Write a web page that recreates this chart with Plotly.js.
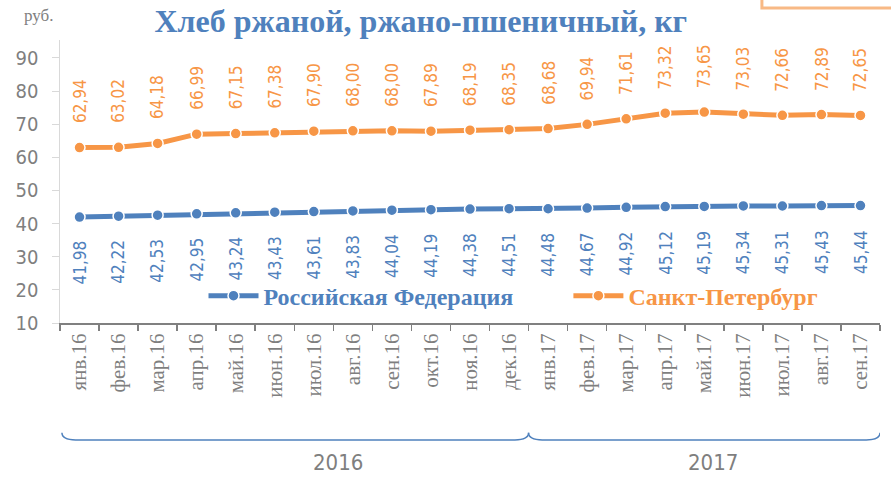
<!DOCTYPE html>
<html><head><meta charset="utf-8">
<script src="https://cdn.plot.ly/plotly-3.0.1.min.js"></script>
<style>html,body{margin:0;padding:0;background:#fff}#c{width:891px;height:496px}</style>
</head><body><div id="c"></div>
<script>
const months = ['янв.16','фев.16','мар.16','апр.16','май.16','июн.16','июл.16','авг.16','сен.16','окт.16','ноя.16','дек.16',
  'янв.17','фев.17','мар.17','апр.17','май.17','июн.17','июл.17','авг.17','сен.17'];
const rf = [41.98,42.22,42.53,42.95,43.24,43.43,43.61,43.83,44.04,44.19,44.38,44.51,44.48,44.67,44.92,45.12,45.19,45.34,45.31,45.43,45.44];
const spb = [62.94,63.02,64.18,66.99,67.15,67.38,67.90,68.00,68.00,67.89,68.19,68.35,68.68,69.94,71.61,73.32,73.65,73.03,72.66,72.89,72.65];
const years = ['2016','2017'];
const yTicks = [10,20,30,40,50,60,70,80,90];

const BLUE = '#4F81BD', ORANGE = '#F79646';
const NUMFONT = 'DejaVu Sans Condensed, DejaVu Sans, sans-serif';
const SERIF = 'Liberation Serif, Times New Roman, serif';
const fmt = v => v.toFixed(2).replace('.', ',');

const traces = [
  {x: months, y: rf, type:'scatter', mode:'lines+markers', name:'<span style="color:'+BLUE+'">Российская Федерация</span>',
   legend:'legend',
   line:{color:BLUE, width:5}, marker:{color:BLUE, size:11, line:{color:'#fff', width:1.5}}},
  {x: months, y: spb, type:'scatter', mode:'lines+markers', name:'<span style="color:'+ORANGE+'">Санкт-Петербург</span>',
   legend:'legend2',
   line:{color:ORANGE, width:5}, marker:{color:ORANGE, size:11, line:{color:'#fff', width:1.5}}}
];

const ann = [];
months.forEach((m, i) => {
  ann.push({x: m, y: spb[i], xref:'x', yref:'y', text: fmt(spb[i]), showarrow:false, textangle:-90,
    yanchor:'bottom', xanchor:'center', yshift:22, font:{family:NUMFONT, size:17, color:ORANGE, stretch:'condensed'}});
  ann.push({x: m, y: rf[i], xref:'x', yref:'y', text: fmt(rf[i]), showarrow:false, textangle:-90,
    yanchor:'top', xanchor:'center', yshift:-22, font:{family:NUMFONT, size:17, color:BLUE, stretch:'condensed'}});
});
ann.push({x:0.339, y:-0.545, xref:'paper', yref:'paper', text: years[0], showarrow:false,
  font:{family:NUMFONT, size:22, color:'#7f7f7f', stretch:'condensed'}});
ann.push({x:0.829, y:-0.545, xref:'paper', yref:'paper', text: years[1], showarrow:false,
  font:{family:NUMFONT, size:22, color:'#7f7f7f', stretch:'condensed'}});
ann.push({x:-0.0463, y:1.088, xref:'paper', yref:'paper', xanchor:'left', yanchor:'middle', text:'руб.', showarrow:false,
  font:{family:SERIF, size:17, color:'#7f7f7f'}});

const yb = -0.413, yt = -0.388;
function brace(a, b) {
  const d = 0.35;
  return `M ${a},${yt} Q ${a},${yb} ${a+d},${yb} L ${b-d},${yb} Q ${b},${yb} ${b},${yt}`;
}
const shapes = [
  {type:'path', xref:'x', yref:'paper', path: brace(-0.45, 11.5), line:{color:BLUE, width:1.5}},
  {type:'path', xref:'x', yref:'paper', path: brace(11.5, 20.5), line:{color:BLUE, width:1.5}},
  {type:'rect', xref:'paper', yref:'paper', x0:0.856, x1:1.05, y0:1.113, y1:1.3, line:{color:'#F8B985', width:3}, fillcolor:'rgba(0,0,0,0)'}
];

const legendBase = {orientation:'h', y:0.095, xanchor:'left', yanchor:'middle', bgcolor:'rgba(0,0,0,0)',
    font:{family:SERIF, size:24, weight:'bold'}, itemwidth:50};

const layout = {
  width: 891, height: 496,
  margin: {l:60, r:11, t:40, b:173},
  paper_bgcolor:'#fff', plot_bgcolor:'#fff',
  title: {text:'Хлеб ржаной, ржано-пшеничный, кг', x:0.44, xref:'paper', xanchor:'center', y:0.958, yanchor:'middle',
    font:{family:SERIF, size:32, color:BLUE, weight:'bold'}},
  xaxis: {type:'category', tickson:'boundaries', ticks:'outside', ticklen:6, tickcolor:'#808080', tickwidth:1.5,
    showline:true, linecolor:'#808080', linewidth:2, showgrid:false, tickangle:-90,
    tickfont:{family:SERIF, size:21, color:'#7f7f7f'}, range:[-0.5, 20.5]},
  yaxis: {range:[10, 95.4], tickvals:yTicks, ticks:'outside', ticklen:7, tickcolor:'#d9d9d9', showline:true,
    linecolor:'#d9d9d9', linewidth:1.5, showgrid:false, zeroline:false, ticklabelstandoff:9,
    tickfont:{family:NUMFONT, size:20, color:'#7f7f7f', stretch:'condensed'}},
  showlegend: true,
  legend: Object.assign({}, legendBase, {x:0.175}),
  legend2: Object.assign({}, legendBase, {x:0.62}),
  annotations: ann,
  shapes: shapes
};
Plotly.newPlot('c', traces, layout, {displayModeBar:false, staticPlot:true});
</script></body></html>
